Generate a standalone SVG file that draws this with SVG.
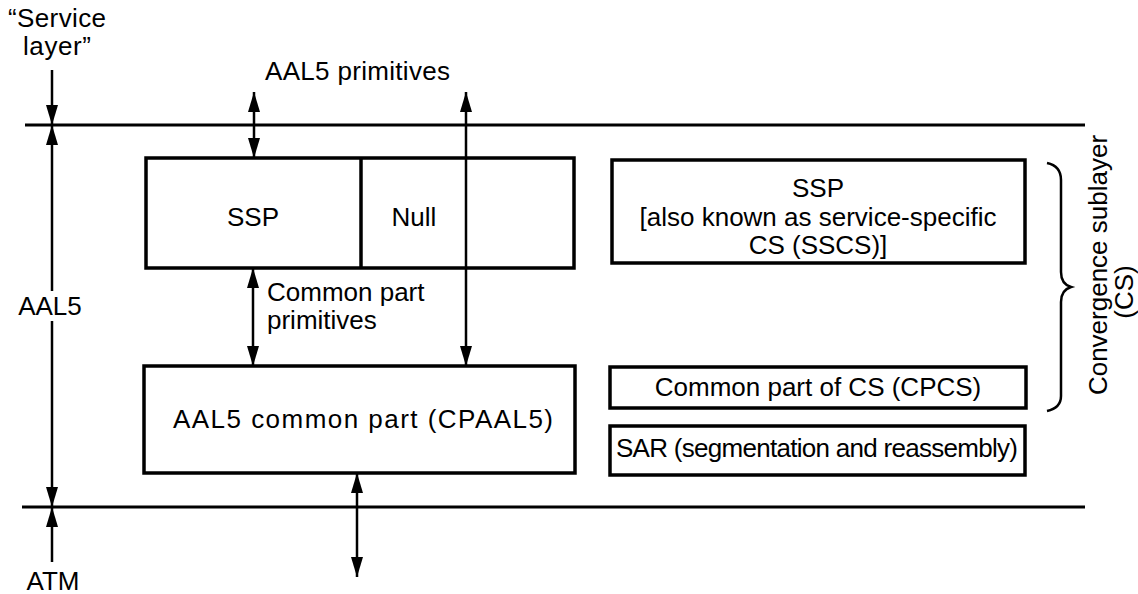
<svg xmlns="http://www.w3.org/2000/svg" width="1138" height="594" viewBox="0 0 1138 594">
<style>
text{font-family:"Liberation Sans",Arial,sans-serif;font-size:26px;fill:#000}
.box{fill:none;stroke:#000;stroke-width:3.5}
.rule{fill:none;stroke:#000;stroke-width:3}
.arr{fill:none;stroke:#000;stroke-width:2.5}
.mid{text-anchor:middle}
</style>
<defs>
<marker id="ah" viewBox="0 0 20 12" refX="20" refY="6" markerWidth="20" markerHeight="12" markerUnits="userSpaceOnUse" orient="auto-start-reverse">
<path d="M0,0 L20,6 L0,12 z" fill="#000"/>
</marker>
</defs>
<g id="layer-rules">
<line class="rule" x1="25" y1="125" x2="1085" y2="125"/>
<line class="rule" x1="22" y1="507" x2="1085" y2="507"/>
</g>
<g id="labels-left">
<text class="mid" x="57" y="27" font-size="24" textLength="98">“Service</text>
<text class="mid" x="57" y="55" font-size="24" textLength="68">layer”</text>
<text class="mid" x="50" y="315" font-size="24">AAL5</text>
<text class="mid" x="53" y="590" font-size="25">ATM</text>
</g>
<g id="label-aal5-primitives">
<text x="265" y="80" textLength="185">AAL5 primitives</text>
</g>
<g id="node-ssp-null">
<rect class="box" x="146" y="158" width="428" height="110"/>
<line class="box" x1="361" y1="158" x2="361" y2="268"/>
<text class="mid" x="253" y="226">SSP</text>
<text class="mid" x="414" y="226">Null</text>
</g>
<g id="label-common-part-primitives">
<text x="267" y="301" font-size="24">Common part</text>
<text x="267" y="329" font-size="24">primitives</text>
</g>
<g id="node-cpaal5">
<rect class="box" x="144" y="366" width="431" height="107"/>
<text class="mid" x="363" y="428" textLength="380">AAL5 common part (CPAAL5)</text>
</g>
<g id="node-sscs">
<rect class="box" x="612" y="160" width="413" height="103"/>
<text class="mid" x="818" y="197">SSP</text>
<text class="mid" x="818" y="226">[also known as service-specific</text>
<text class="mid" x="818" y="254">CS (SSCS)]</text>
</g>
<g id="node-cpcs">
<rect class="box" x="610" y="367" width="416" height="41"/>
<text class="mid" x="818" y="396">Common part of CS (CPCS)</text>
</g>
<g id="node-sar">
<rect class="box" x="610" y="426" width="415" height="49"/>
<text class="mid" x="817" y="457" font-size="25" textLength="402">SAR (segmentation and reassembly)</text>
</g>
<g id="brace-cs">
<path d="M1047,163 Q1061,166 1061,180 L1061,272 Q1061,284 1071,287 Q1061,290 1061,302 L1061,396 Q1061,408 1047,411" fill="none" stroke="#000" stroke-width="2.5"/>
<text class="mid" transform="translate(1107,265) rotate(-90)">Convergence sublayer</text>
<text class="mid" transform="translate(1133,292) rotate(-90)">(CS)</text>
</g>
<g id="connectors">
<line class="arr" x1="52" y1="70" x2="52" y2="125" marker-end="url(#ah)"/>
<line class="arr" x1="52" y1="291" x2="52" y2="125" marker-end="url(#ah)"/>
<line class="arr" x1="52" y1="321" x2="52" y2="507" marker-end="url(#ah)"/>
<line class="arr" x1="52" y1="562" x2="52" y2="507" marker-end="url(#ah)"/>
<line class="arr" x1="254" y1="92" x2="254" y2="158" marker-start="url(#ah)" marker-end="url(#ah)"/>
<line class="arr" x1="466" y1="92" x2="466" y2="366" marker-start="url(#ah)" marker-end="url(#ah)"/>
<line class="arr" x1="253" y1="268" x2="253" y2="366" marker-start="url(#ah)" marker-end="url(#ah)"/>
<line class="arr" x1="357" y1="473" x2="357" y2="577" marker-start="url(#ah)" marker-end="url(#ah)"/>
</g>
</svg>
